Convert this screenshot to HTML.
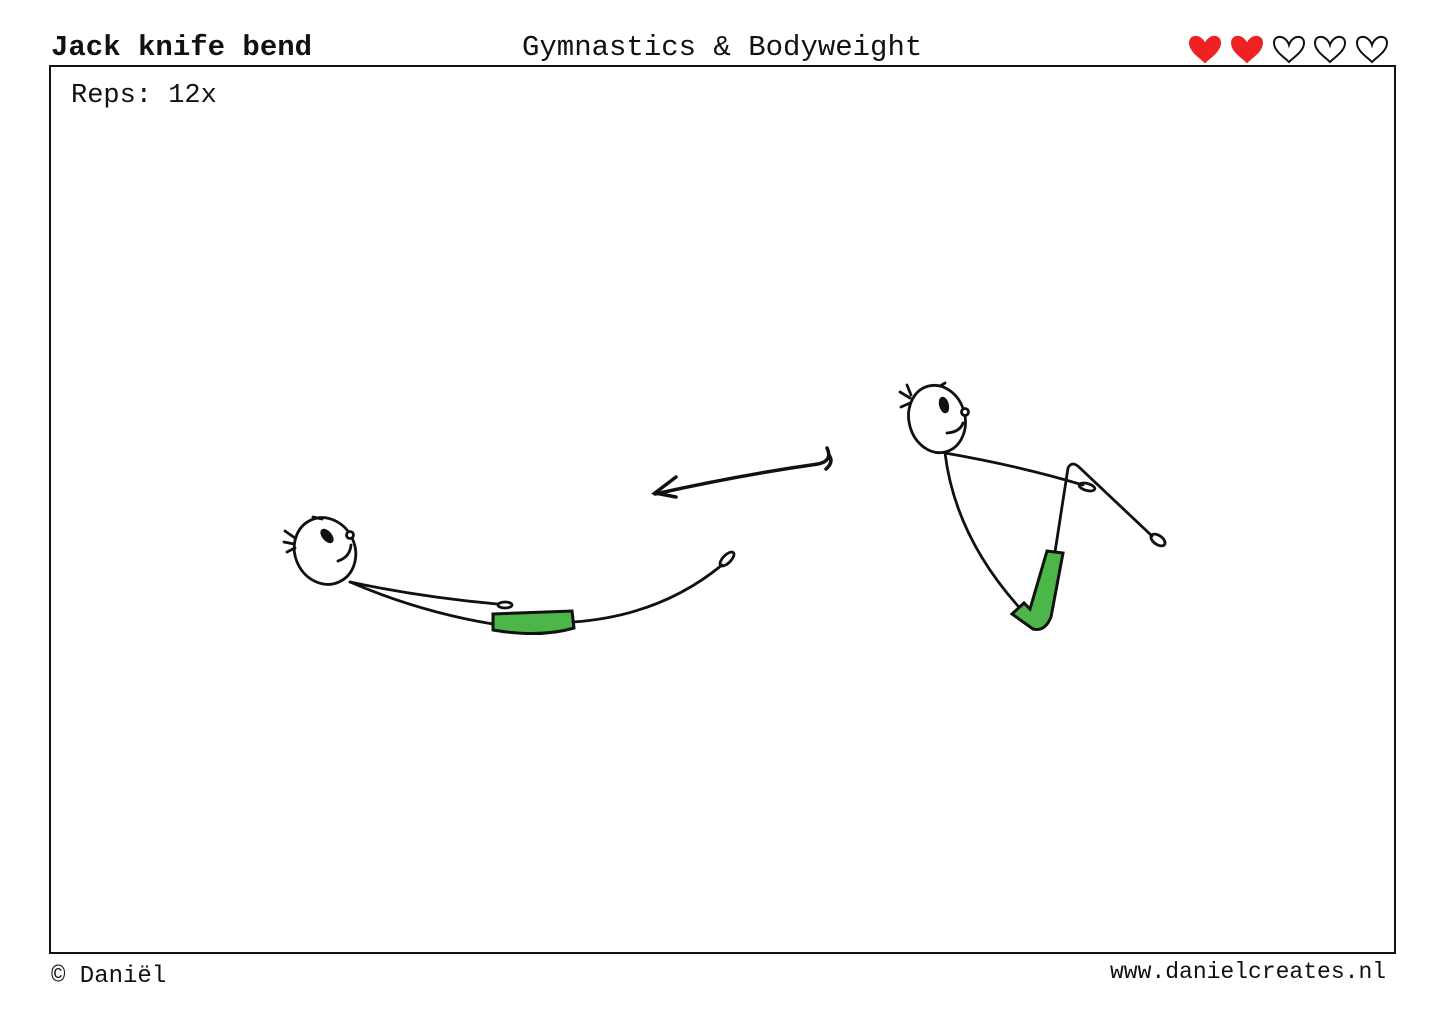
<!DOCTYPE html>
<html><head><style>
body{margin:0;background:#fff;}
svg{display:block;}
text{font-family:"Liberation Mono",monospace;fill:#111;}
</style></head><body>
<svg width="1445" height="1019" viewBox="0 0 1445 1019" xmlns="http://www.w3.org/2000/svg">
<text x="51" y="55" font-size="29" font-weight="bold">Jack knife bend</text>
<text x="522" y="55" font-size="29">Gymnastics &amp; Bodyweight</text>
<g stroke="#111" stroke-width="2">
<path d="M0,8 C-3,-2 -15,-3 -15,6 C-15,14 -5,20 0,25 C5,20 15,14 15,6 C15,-3 3,-2 0,8Z" transform="translate(1205,37)" fill="#ee2222" stroke="#ee2222"/>
<path d="M0,8 C-3,-2 -15,-3 -15,6 C-15,14 -5,20 0,25 C5,20 15,14 15,6 C15,-3 3,-2 0,8Z" transform="translate(1247,37)" fill="#ee2222" stroke="#ee2222"/>
<path d="M0,8 C-3,-2 -15,-3 -15,6 C-15,14 -5,20 0,25 C5,20 15,14 15,6 C15,-3 3,-2 0,8Z" transform="translate(1289,37)" fill="none"/>
<path d="M0,8 C-3,-2 -15,-3 -15,6 C-15,14 -5,20 0,25 C5,20 15,14 15,6 C15,-3 3,-2 0,8Z" transform="translate(1330,37)" fill="none"/>
<path d="M0,8 C-3,-2 -15,-3 -15,6 C-15,14 -5,20 0,25 C5,20 15,14 15,6 C15,-3 3,-2 0,8Z" transform="translate(1372,37)" fill="none"/>
</g>
<rect x="50" y="66" width="1345" height="887" fill="none" stroke="#111" stroke-width="2"/>
<text x="71" y="102" font-size="27">Reps: 12x</text>
<text x="51" y="982" font-size="24">© Daniël</text>
<text x="1110" y="978" font-size="23">www.danielcreates.nl</text>

<g fill="none" stroke="#111" stroke-width="2.8" stroke-linecap="round">
<ellipse cx="325" cy="551" rx="30" ry="34" transform="rotate(-25 325 551)" fill="#fff"/>
<ellipse cx="327" cy="536" rx="3.5" ry="7" transform="rotate(-40 327 536)" fill="#111"/>
<path d="M338,561 Q350,557 351,545"/>
<circle cx="350" cy="535" r="3.5" fill="#fff"/>
<path d="M295,538 L285,531 M294,544 L284,542 M295,548 L287,552 M313,517 L322,519"/>
<path d="M350,582 Q420,597 497,604"/>
<ellipse cx="505" cy="605" rx="7" ry="3"/>
<path d="M350,582 Q420,612 493,624"/>
<path d="M493,614 L572,611 L574,628 Q540,638 493,630 Z" fill="#4cb648" stroke-width="3"/>
<path d="M573,622 Q660,616 722,565"/>
<ellipse cx="727" cy="559" rx="4" ry="9" transform="rotate(45 727 559)"/>
<path d="M655,494 Q740,475 818,464 Q833,461 827,448 M829,455 Q834,462 826,469" stroke-width="3.5"/>
<path d="M676,477 L655,493 L676,497" stroke-width="3.5"/>
<ellipse cx="937" cy="419" rx="28" ry="34" transform="rotate(-15 937 419)" fill="#fff"/>
<ellipse cx="944" cy="405" rx="3.5" ry="7" transform="rotate(-15 944 405)" fill="#111"/>
<path d="M947,433 Q960,432 963,423"/>
<circle cx="965" cy="412" r="3.5" fill="#fff"/>
<path d="M910,398 L900,392 M910,403 L901,407 M911,395 L907,385 M940,386 L945,383"/>
<path d="M945,453 Q1020,466 1083,485"/>
<ellipse cx="1087" cy="487" rx="8" ry="3.5" transform="rotate(15 1087 487)"/>
<path d="M945,453 Q955,535 1018,606"/>
<path d="M1055,552 L1068,468 Q1072,460 1080,468 L1152,536"/>
<ellipse cx="1158" cy="540" rx="8" ry="4.5" transform="rotate(35 1158 540)"/>
<path d="M1047,551 L1063,553 L1051,617 Q1045,632 1033,629 L1012,614 L1024,603 L1030,609 Z" fill="#4cb648" stroke-width="3"/>
</g>
</svg>
</body></html>
